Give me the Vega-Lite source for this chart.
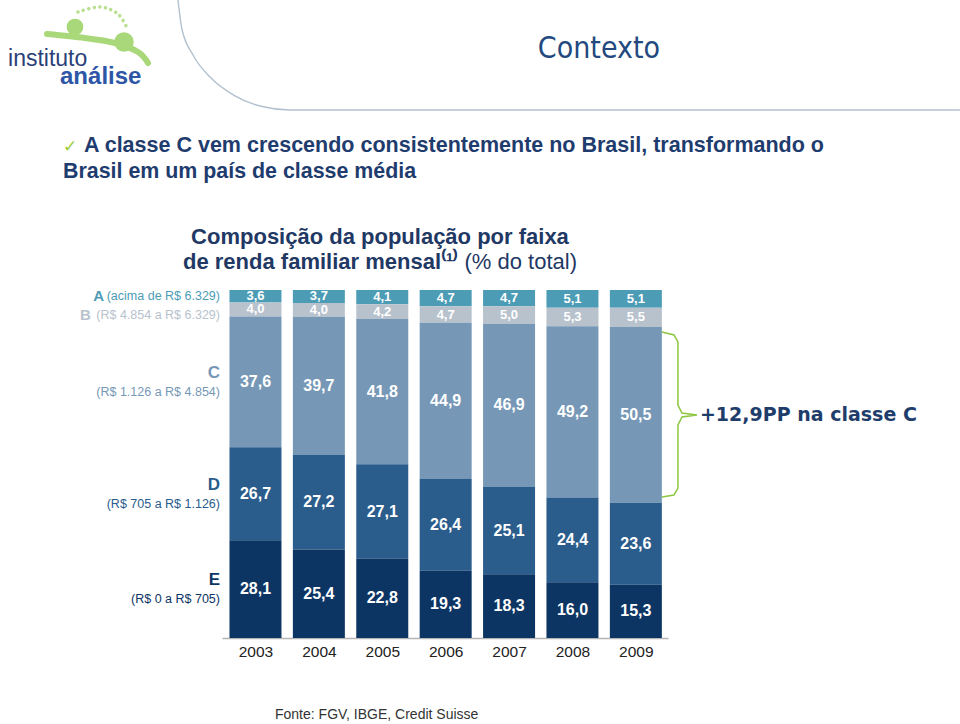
{
  "$schema": "https://vega.github.io/schema/vega-lite/v6.json",
  "width": 446,
  "height": 348,
  "autosize": "none",
  "padding": {"left": 222, "top": 290, "right": 292, "bottom": 86},
  "background": "white",
  "config": {
    "view": {"stroke": null},
    "locale": {"number": {"decimal": ",", "thousands": ".", "grouping": [3], "currency": ["R$ ", ""]}}
  },
  "resolve": {"axis": {"x": "independent", "y": "independent"}},
  "datasets": {
    "dados": [
      {"ano": 2003, "classe": "A", "valor": 3.6}, {"ano": 2003, "classe": "B", "valor": 4.0}, {"ano": 2003, "classe": "C", "valor": 37.6}, {"ano": 2003, "classe": "D", "valor": 26.7}, {"ano": 2003, "classe": "E", "valor": 28.1},
      {"ano": 2004, "classe": "A", "valor": 3.7}, {"ano": 2004, "classe": "B", "valor": 4.0}, {"ano": 2004, "classe": "C", "valor": 39.7}, {"ano": 2004, "classe": "D", "valor": 27.2}, {"ano": 2004, "classe": "E", "valor": 25.4},
      {"ano": 2005, "classe": "A", "valor": 4.1}, {"ano": 2005, "classe": "B", "valor": 4.2}, {"ano": 2005, "classe": "C", "valor": 41.8}, {"ano": 2005, "classe": "D", "valor": 27.1}, {"ano": 2005, "classe": "E", "valor": 22.8},
      {"ano": 2006, "classe": "A", "valor": 4.7}, {"ano": 2006, "classe": "B", "valor": 4.7}, {"ano": 2006, "classe": "C", "valor": 44.9}, {"ano": 2006, "classe": "D", "valor": 26.4}, {"ano": 2006, "classe": "E", "valor": 19.3},
      {"ano": 2007, "classe": "A", "valor": 4.7}, {"ano": 2007, "classe": "B", "valor": 5.0}, {"ano": 2007, "classe": "C", "valor": 46.9}, {"ano": 2007, "classe": "D", "valor": 25.1}, {"ano": 2007, "classe": "E", "valor": 18.3},
      {"ano": 2008, "classe": "A", "valor": 5.1}, {"ano": 2008, "classe": "B", "valor": 5.3}, {"ano": 2008, "classe": "C", "valor": 49.2}, {"ano": 2008, "classe": "D", "valor": 24.4}, {"ano": 2008, "classe": "E", "valor": 16.0},
      {"ano": 2009, "classe": "A", "valor": 5.1}, {"ano": 2009, "classe": "B", "valor": 5.5}, {"ano": 2009, "classe": "C", "valor": 50.5}, {"ano": 2009, "classe": "D", "valor": 23.6}, {"ano": 2009, "classe": "E", "valor": 15.3}
    ],
    "faixas": [
      {"classe": "A", "desc": "(acima de R$ 6.329)"},
      {"classe": "B", "desc": "(R$ 4.854 a  R$ 6.329)"},
      {"classe": "C", "desc": "(R$ 1.126 a R$ 4.854)"},
      {"classe": "D", "desc": "(R$ 705 a R$ 1.126)"},
      {"classe": "E", "desc": "(R$ 0 a R$ 705)"}
    ],
    "decor": [
      {"grupo": "moldura", "i": 1, "u": 2001.778, "v": 183.33},
      {"grupo": "moldura", "i": 2, "u": 2001.838, "v": 175.14},
      {"grupo": "moldura", "i": 3, "u": 2002.015, "v": 167.53},
      {"grupo": "moldura", "i": 4, "u": 2002.295, "v": 160.98},
      {"grupo": "moldura", "i": 5, "u": 2002.661, "v": 155.95},
      {"grupo": "moldura", "i": 6, "u": 2003.087, "v": 152.79},
      {"grupo": "moldura", "i": 7, "u": 2003.545, "v": 151.72},
      {"grupo": "moldura", "i": 8, "u": 2014.112, "v": 151.72},
      {"grupo": "pontos", "i": 1, "u": 2000.201, "v": 179.89},
      {"grupo": "pontos", "i": 2, "u": 2000.548, "v": 181.32},
      {"grupo": "pontos", "i": 3, "u": 2000.832, "v": 179.31},
      {"grupo": "pontos", "i": 4, "u": 2000.989, "v": 174.71},
      {"grupo": "laco", "i": 1, "u": 1999.712, "v": 173.56},
      {"grupo": "laco", "i": 2, "u": 2000.311, "v": 172.41},
      {"grupo": "laco", "i": 3, "u": 2000.784, "v": 170.98},
      {"grupo": "laco", "i": 4, "u": 2001.147, "v": 168.39},
      {"grupo": "laco", "i": 5, "u": 2001.305, "v": 165.23},
      {"grupo": "chave", "i": 1, "u": 2009.412, "v": 87.93},
      {"grupo": "chave", "i": 2, "u": 2009.601, "v": 87.07},
      {"grupo": "chave", "i": 3, "u": 2009.664, "v": 85.06},
      {"grupo": "chave", "i": 4, "u": 2009.664, "v": 66.95},
      {"grupo": "chave", "i": 5, "u": 2009.728, "v": 64.66},
      {"grupo": "chave", "i": 6, "u": 2009.964, "v": 64.08},
      {"grupo": "chave", "i": 7, "u": 2009.728, "v": 63.51},
      {"grupo": "chave", "i": 8, "u": 2009.664, "v": 61.21},
      {"grupo": "chave", "i": 9, "u": 2009.664, "v": 43.10},
      {"grupo": "chave", "i": 10, "u": 2009.601, "v": 41.09},
      {"grupo": "chave", "i": 11, "u": 2009.412, "v": 40.52}
    ]
  },
  "layer": [
    {
      "data": {"name": "decor"},
      "transform": [{"filter": "datum.grupo == 'moldura'"}],
      "mark": {"type": "line", "stroke": "#b3c1cf", "strokeWidth": 1.4, "interpolate": "monotone"},
      "encoding": {
        "x": {"field": "u", "type": "quantitative", "scale": {"domain": [2002.472, 2009.507], "nice": false, "zero": false, "padding": 0}, "axis": null},
        "y": {"field": "v", "type": "quantitative", "scale": {"domain": [0, 100], "nice": false, "zero": false}, "axis": null},
        "order": {"field": "i"}
      }
    },
    {
      "data": {"name": "decor"},
      "transform": [{"filter": "datum.grupo == 'pontos'"}],
      "mark": {"type": "line", "stroke": "#b9e08f", "strokeWidth": 3.5, "strokeDash": [0.1, 5.5], "strokeCap": "round", "interpolate": "cardinal"},
      "encoding": {
        "x": {"field": "u", "type": "quantitative", "scale": {"domain": [2002.472, 2009.507], "nice": false, "zero": false, "padding": 0}, "axis": null},
        "y": {"field": "v", "type": "quantitative", "scale": {"domain": [0, 100], "nice": false, "zero": false}, "axis": null},
        "order": {"field": "i"}
      }
    },
    {
      "data": {"name": "decor"},
      "transform": [{"filter": "datum.grupo == 'laco'"}],
      "mark": {"type": "line", "stroke": "#a8d879", "strokeWidth": 6, "strokeCap": "round", "interpolate": "cardinal"},
      "encoding": {
        "x": {"field": "u", "type": "quantitative", "scale": {"domain": [2002.472, 2009.507], "nice": false, "zero": false, "padding": 0}, "axis": null},
        "y": {"field": "v", "type": "quantitative", "scale": {"domain": [0, 100], "nice": false, "zero": false}, "axis": null},
        "order": {"field": "i"}
      }
    },
    {
      "data": {"values": [{}]},
      "mark": {"type": "circle", "size": 280, "color": "#a8d879", "opacity": 1},
      "encoding": {
        "x": {"datum": 2000.153, "type": "quantitative", "scale": {"domain": [2002.472, 2009.507], "nice": false, "zero": false, "padding": 0}, "axis": null},
        "y": {"datum": 175.57, "type": "quantitative", "scale": {"domain": [0, 100], "nice": false, "zero": false}, "axis": null}
      }
    },
    {
      "data": {"values": [{}]},
      "mark": {"type": "circle", "size": 380, "color": "#a8d879", "opacity": 1},
      "encoding": {
        "x": {"datum": 2000.926, "type": "quantitative", "scale": {"domain": [2002.472, 2009.507], "nice": false, "zero": false, "padding": 0}, "axis": null},
        "y": {"datum": 171.26, "type": "quantitative", "scale": {"domain": [0, 100], "nice": false, "zero": false}, "axis": null}
      }
    },
    {
      "data": {"values": [{}]},
      "mark": {"type": "text", "text": "instituto", "align": "left", "baseline": "alphabetic", "font": "Liberation Sans, Arial, sans-serif", "fontSize": 23, "color": "#2b4079"},
      "encoding": {
        "x": {"datum": 1999.097, "type": "quantitative", "scale": {"domain": [2002.472, 2009.507], "nice": false, "zero": false, "padding": 0}, "axis": null},
        "y": {"datum": 164.37, "type": "quantitative", "scale": {"domain": [0, 100], "nice": false, "zero": false}, "axis": null}
      }
    },
    {
      "data": {"values": [{}]},
      "mark": {"type": "text", "text": "análise", "align": "left", "baseline": "alphabetic", "font": "Liberation Sans, Arial, sans-serif", "fontSize": 24, "fontWeight": "bold", "color": "#2e56a6"},
      "encoding": {
        "x": {"datum": 1999.917, "type": "quantitative", "scale": {"domain": [2002.472, 2009.507], "nice": false, "zero": false, "padding": 0}, "axis": null},
        "y": {"datum": 159.2, "type": "quantitative", "scale": {"domain": [0, 100], "nice": false, "zero": false}, "axis": null}
      }
    },
    {
      "data": {"values": [{}]},
      "mark": {"type": "text", "text": "Contexto", "align": "center", "baseline": "alphabetic", "font": "DejaVu Sans Condensed, DejaVu Sans, sans-serif", "fontSize": 30, "color": "#23497e"},
      "encoding": {
        "x": {"datum": 2008.418, "type": "quantitative", "scale": {"domain": [2002.472, 2009.507], "nice": false, "zero": false, "padding": 0}, "axis": null},
        "y": {"datum": 166.7, "type": "quantitative", "scale": {"domain": [0, 100], "nice": false, "zero": false}, "axis": null}
      }
    },
    {
      "data": {"values": [{}]},
      "mark": {"type": "text", "text": "✓", "align": "left", "baseline": "alphabetic", "font": "DejaVu Sans, sans-serif", "fontSize": 17, "color": "#9ccb3b"},
      "encoding": {
        "x": {"datum": 1999.964, "type": "quantitative", "scale": {"domain": [2002.472, 2009.507], "nice": false, "zero": false, "padding": 0}, "axis": null},
        "y": {"datum": 139.66, "type": "quantitative", "scale": {"domain": [0, 100], "nice": false, "zero": false}, "axis": null}
      }
    },
    {
      "data": {"values": [{}]},
      "mark": {"type": "text", "text": "A classe C vem crescendo consistentemente no Brasil, transformando o", "align": "left", "baseline": "alphabetic", "font": "Liberation Sans, Arial, sans-serif", "fontSize": 21.5, "fontWeight": "bold", "color": "#1f3c6e"},
      "encoding": {
        "x": {"datum": 2000.295, "type": "quantitative", "scale": {"domain": [2002.472, 2009.507], "nice": false, "zero": false, "padding": 0}, "axis": null},
        "y": {"datum": 139.66, "type": "quantitative", "scale": {"domain": [0, 100], "nice": false, "zero": false}, "axis": null}
      }
    },
    {
      "data": {"values": [{}]},
      "mark": {"type": "text", "text": "Brasil em um país de classe média", "align": "left", "baseline": "alphabetic", "font": "Liberation Sans, Arial, sans-serif", "fontSize": 21.4, "fontWeight": "bold", "color": "#1f3c6e"},
      "encoding": {
        "x": {"datum": 1999.964, "type": "quantitative", "scale": {"domain": [2002.472, 2009.507], "nice": false, "zero": false, "padding": 0}, "axis": null},
        "y": {"datum": 132.18, "type": "quantitative", "scale": {"domain": [0, 100], "nice": false, "zero": false}, "axis": null}
      }
    },
    {
      "data": {"values": [{}]},
      "mark": {"type": "text", "text": "Composição da população por faixa", "align": "center", "baseline": "alphabetic", "font": "Liberation Sans, Arial, sans-serif", "fontSize": 22, "fontWeight": "bold", "color": "#1f3864"},
      "encoding": {
        "x": {"datum": 2004.964, "type": "quantitative", "scale": {"domain": [2002.472, 2009.507], "nice": false, "zero": false, "padding": 0}, "axis": null},
        "y": {"datum": 113.2, "type": "quantitative", "scale": {"domain": [0, 100], "nice": false, "zero": false}, "axis": null}
      }
    },
    {
      "data": {"values": [{}]},
      "mark": {"type": "text", "text": "de renda familiar mensal⁽¹⁾", "align": "left", "baseline": "alphabetic", "font": "Liberation Sans, Arial, sans-serif", "fontSize": 22, "fontWeight": "bold", "color": "#1f3864"},
      "encoding": {
        "x": {"datum": 2001.857, "type": "quantitative", "scale": {"domain": [2002.472, 2009.507], "nice": false, "zero": false, "padding": 0}, "axis": null},
        "y": {"datum": 106.03, "type": "quantitative", "scale": {"domain": [0, 100], "nice": false, "zero": false}, "axis": null}
      }
    },
    {
      "data": {"values": [{}]},
      "mark": {"type": "text", "text": "(% do total)", "align": "right", "baseline": "alphabetic", "font": "Liberation Sans, Arial, sans-serif", "fontSize": 22, "color": "#1f3864"},
      "encoding": {
        "x": {"datum": 2008.071, "type": "quantitative", "scale": {"domain": [2002.472, 2009.507], "nice": false, "zero": false, "padding": 0}, "axis": null},
        "y": {"datum": 106.03, "type": "quantitative", "scale": {"domain": [0, 100], "nice": false, "zero": false}, "axis": null}
      }
    },
    {
      "data": {"name": "dados"},
      "mark": {"type": "bar", "width": 52},
      "encoding": {
        "x": {"field": "ano", "type": "quantitative", "scale": {"domain": [2002.472, 2009.507], "nice": false, "zero": false, "padding": 0},
          "axis": {"title": null, "values": [2003, 2004, 2005, 2006, 2007, 2008, 2009], "format": "d", "grid": false, "ticks": false, "labelFlush": false, "labelOverlap": false, "domainColor": "#b5b5b5", "domainWidth": 1.5, "labelFont": "Liberation Sans, Arial, sans-serif", "labelFontSize": 15.5, "labelColor": "#222222", "labelPadding": 6}},
        "y": {"field": "valor", "type": "quantitative", "stack": "zero", "scale": {"domain": [0, 100], "nice": false, "zero": false}, "axis": null},
        "color": {"field": "classe", "type": "nominal", "scale": {"domain": ["A", "B", "C", "D", "E"], "range": ["#4d9cb5", "#b7c2cd", "#7698b6", "#2a5c8c", "#0d3564"]}, "legend": null},
        "order": {"field": "classe", "sort": "descending"}
      }
    },
    {
      "data": {"name": "dados"},
      "transform": [
        {"stack": "valor", "groupby": ["ano"], "sort": [{"field": "classe", "order": "descending"}], "as": ["v0", "v1"]},
        {"calculate": "(datum.v0 + datum.v1) / 2", "as": "meio"}
      ],
      "mark": {"type": "text", "align": "center", "baseline": "middle", "font": "Liberation Sans, Arial, sans-serif", "fontWeight": "bold", "color": "white"},
      "encoding": {
        "x": {"field": "ano", "type": "quantitative", "scale": {"domain": [2002.472, 2009.507], "nice": false, "zero": false, "padding": 0}, "axis": null},
        "y": {"field": "meio", "type": "quantitative", "scale": {"domain": [0, 100], "nice": false, "zero": false}, "axis": null},
        "text": {"field": "valor", "type": "quantitative", "format": ".1f"},
        "size": {"condition": {"test": "datum.classe == 'A' || datum.classe == 'B'", "value": 13}, "value": 16}
      }
    },
    {
      "data": {"name": "dados"},
      "transform": [
        {"filter": "datum.ano == 2003"},
        {"stack": "valor", "groupby": ["ano"], "sort": [{"field": "classe", "order": "descending"}], "as": ["v0", "v1"]},
        {"calculate": "(datum.v0 + datum.v1) / 2", "as": "meio"},
        {"filter": "datum.classe == 'C' || datum.classe == 'D' || datum.classe == 'E'"}
      ],
      "mark": {"type": "text", "align": "right", "baseline": "middle", "dy": -9, "font": "Liberation Sans, Arial, sans-serif", "fontWeight": "bold", "fontSize": 17},
      "encoding": {
        "x": {"datum": 2002.44, "type": "quantitative", "scale": {"domain": [2002.472, 2009.507], "nice": false, "zero": false, "padding": 0}, "axis": null},
        "y": {"field": "meio", "type": "quantitative", "scale": {"domain": [0, 100], "nice": false, "zero": false}, "axis": null},
        "text": {"field": "classe"},
        "color": {"field": "classe", "type": "nominal", "scale": {"domain": ["A", "B", "C", "D", "E"], "range": ["#4d9cb5", "#b7c2cd", "#7698b6", "#2a5c8c", "#0d3564"]}, "legend": null}
      }
    },
    {
      "data": {"name": "dados"},
      "transform": [
        {"filter": "datum.ano == 2003"},
        {"stack": "valor", "groupby": ["ano"], "sort": [{"field": "classe", "order": "descending"}], "as": ["v0", "v1"]},
        {"calculate": "(datum.v0 + datum.v1) / 2", "as": "meio"},
        {"lookup": "classe", "from": {"data": {"name": "faixas"}, "key": "classe", "fields": ["desc"]}},
        {"filter": "datum.classe == 'C' || datum.classe == 'D' || datum.classe == 'E'"}
      ],
      "mark": {"type": "text", "align": "right", "baseline": "middle", "dy": 10, "font": "Liberation Sans, Arial, sans-serif", "fontSize": 12.5},
      "encoding": {
        "x": {"datum": 2002.44, "type": "quantitative", "scale": {"domain": [2002.472, 2009.507], "nice": false, "zero": false, "padding": 0}, "axis": null},
        "y": {"field": "meio", "type": "quantitative", "scale": {"domain": [0, 100], "nice": false, "zero": false}, "axis": null},
        "text": {"field": "desc"},
        "color": {"field": "classe", "type": "nominal", "scale": {"domain": ["A", "B", "C", "D", "E"], "range": ["#4d9cb5", "#b7c2cd", "#7698b6", "#2a5c8c", "#0d3564"]}, "legend": null}
      }
    },
    {
      "data": {"name": "dados"},
      "transform": [
        {"filter": "datum.ano == 2003"},
        {"stack": "valor", "groupby": ["ano"], "sort": [{"field": "classe", "order": "descending"}], "as": ["v0", "v1"]},
        {"calculate": "(datum.v0 + datum.v1) / 2", "as": "meio"},
        {"lookup": "classe", "from": {"data": {"name": "faixas"}, "key": "classe", "fields": ["desc"]}},
        {"filter": "datum.classe == 'A'"}
      ],
      "mark": {"type": "text", "align": "right", "baseline": "middle", "font": "Liberation Sans, Arial, sans-serif", "fontSize": 12.5},
      "encoding": {
        "x": {"datum": 2002.44, "type": "quantitative", "scale": {"domain": [2002.472, 2009.507], "nice": false, "zero": false, "padding": 0}, "axis": null},
        "y": {"field": "meio", "type": "quantitative", "scale": {"domain": [0, 100], "nice": false, "zero": false}, "axis": null},
        "text": {"field": "desc"},
        "color": {"field": "classe", "type": "nominal", "scale": {"domain": ["A", "B", "C", "D", "E"], "range": ["#4d9cb5", "#b7c2cd", "#7698b6", "#2a5c8c", "#0d3564"]}, "legend": null}
      }
    },
    {
      "data": {"name": "dados"},
      "transform": [
        {"filter": "datum.ano == 2003"},
        {"stack": "valor", "groupby": ["ano"], "sort": [{"field": "classe", "order": "descending"}], "as": ["v0", "v1"]},
        {"calculate": "(datum.v0 + datum.v1) / 2", "as": "meio"},
        {"filter": "datum.classe == 'A'"}
      ],
      "mark": {"type": "text", "align": "left", "baseline": "middle", "font": "Liberation Sans, Arial, sans-serif", "fontWeight": "bold", "fontSize": 15},
      "encoding": {
        "x": {"datum": 2000.44, "type": "quantitative", "scale": {"domain": [2002.472, 2009.507], "nice": false, "zero": false, "padding": 0}, "axis": null},
        "y": {"field": "meio", "type": "quantitative", "scale": {"domain": [0, 100], "nice": false, "zero": false}, "axis": null},
        "text": {"field": "classe"},
        "color": {"field": "classe", "type": "nominal", "scale": {"domain": ["A", "B", "C", "D", "E"], "range": ["#4d9cb5", "#b7c2cd", "#7698b6", "#2a5c8c", "#0d3564"]}, "legend": null}
      }
    },
    {
      "data": {"name": "dados"},
      "transform": [
        {"filter": "datum.ano == 2003"},
        {"stack": "valor", "groupby": ["ano"], "sort": [{"field": "classe", "order": "descending"}], "as": ["v0", "v1"]},
        {"calculate": "(datum.v0 + datum.v1) / 2", "as": "meio"},
        {"lookup": "classe", "from": {"data": {"name": "faixas"}, "key": "classe", "fields": ["desc"]}},
        {"filter": "datum.classe == 'B'"}
      ],
      "mark": {"type": "text", "align": "right", "baseline": "middle", "dy": 6, "font": "Liberation Sans, Arial, sans-serif", "fontSize": 12.5},
      "encoding": {
        "x": {"datum": 2002.44, "type": "quantitative", "scale": {"domain": [2002.472, 2009.507], "nice": false, "zero": false, "padding": 0}, "axis": null},
        "y": {"field": "meio", "type": "quantitative", "scale": {"domain": [0, 100], "nice": false, "zero": false}, "axis": null},
        "text": {"field": "desc"},
        "color": {"field": "classe", "type": "nominal", "scale": {"domain": ["A", "B", "C", "D", "E"], "range": ["#4d9cb5", "#b7c2cd", "#7698b6", "#2a5c8c", "#0d3564"]}, "legend": null}
      }
    },
    {
      "data": {"name": "dados"},
      "transform": [
        {"filter": "datum.ano == 2003"},
        {"stack": "valor", "groupby": ["ano"], "sort": [{"field": "classe", "order": "descending"}], "as": ["v0", "v1"]},
        {"calculate": "(datum.v0 + datum.v1) / 2", "as": "meio"},
        {"filter": "datum.classe == 'B'"}
      ],
      "mark": {"type": "text", "align": "left", "baseline": "middle", "dy": 6, "font": "Liberation Sans, Arial, sans-serif", "fontWeight": "bold", "fontSize": 15},
      "encoding": {
        "x": {"datum": 2000.232, "type": "quantitative", "scale": {"domain": [2002.472, 2009.507], "nice": false, "zero": false, "padding": 0}, "axis": null},
        "y": {"field": "meio", "type": "quantitative", "scale": {"domain": [0, 100], "nice": false, "zero": false}, "axis": null},
        "text": {"field": "classe"},
        "color": {"field": "classe", "type": "nominal", "scale": {"domain": ["A", "B", "C", "D", "E"], "range": ["#4d9cb5", "#b7c2cd", "#7698b6", "#2a5c8c", "#0d3564"]}, "legend": null}
      }
    },
    {
      "data": {"name": "decor"},
      "transform": [{"filter": "datum.grupo == 'chave'"}],
      "mark": {"type": "line", "stroke": "#8dc63f", "strokeWidth": 1.5, "interpolate": "linear"},
      "encoding": {
        "x": {"field": "u", "type": "quantitative", "scale": {"domain": [2002.472, 2009.507], "nice": false, "zero": false, "padding": 0}, "axis": null},
        "y": {"field": "v", "type": "quantitative", "scale": {"domain": [0, 100], "nice": false, "zero": false}, "axis": null},
        "order": {"field": "i"}
      }
    },
    {
      "data": {"values": [{}]},
      "mark": {"type": "text", "text": "+12,9PP na classe C", "align": "left", "baseline": "middle", "font": "DejaVu Sans, Verdana, sans-serif", "fontSize": 19, "fontWeight": "bold", "color": "#1f3d6b"},
      "encoding": {
        "x": {"datum": 2010.011, "type": "quantitative", "scale": {"domain": [2002.472, 2009.507], "nice": false, "zero": false, "padding": 0}, "axis": null},
        "y": {"datum": 64.08, "type": "quantitative", "scale": {"domain": [0, 100], "nice": false, "zero": false}, "axis": null}
      }
    },
    {
      "data": {"values": [{}]},
      "mark": {"type": "text", "text": "Fonte: FGV, IBGE, Credit Suisse", "align": "left", "baseline": "alphabetic", "font": "Liberation Sans, Arial, sans-serif", "fontSize": 14, "color": "#333333"},
      "encoding": {
        "x": {"datum": 2003.308, "type": "quantitative", "scale": {"domain": [2002.472, 2009.507], "nice": false, "zero": false, "padding": 0}, "axis": null},
        "y": {"datum": -23.28, "type": "quantitative", "scale": {"domain": [0, 100], "nice": false, "zero": false}, "axis": null}
      }
    }
  ]
}
